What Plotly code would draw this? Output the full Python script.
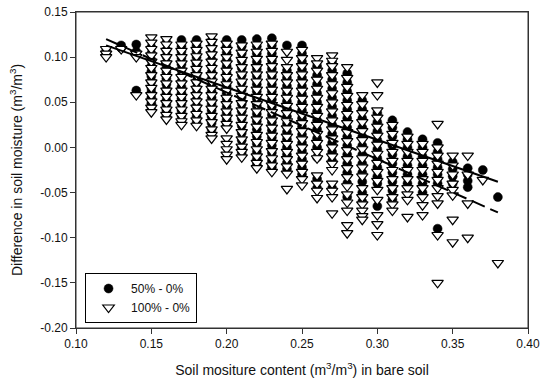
import plotly.graph_objects as go

columns = [0.12, 0.13, 0.14, 0.15, 0.16, 0.17, 0.18, 0.19, 0.20, 0.21, 0.22, 0.23, 0.24,
           0.25, 0.26, 0.27, 0.28, 0.29, 0.30, 0.31, 0.32, 0.33, 0.34, 0.35, 0.36, 0.37, 0.38]

circles_50 = [
    [0.107, 0.104],
    [0.113, 0.110],
    [0.114, 0.106, 0.063],
    [0.111, 0.104, 0.097, 0.090, 0.084, 0.079, 0.073, 0.066, 0.061, 0.055, 0.049, 0.045],
    [0.116, 0.108, 0.101, 0.094, 0.088, 0.083, 0.076, 0.070, 0.064, 0.059, 0.052, 0.047, 0.041, 0.035],
    [0.119, 0.112, 0.106, 0.099, 0.092, 0.086, 0.080, 0.073, 0.067, 0.060, 0.054, 0.048, 0.041, 0.035, 0.030],
    [0.119, 0.113, 0.106, 0.100, 0.093, 0.086, 0.080, 0.073, 0.066, 0.060, 0.053, 0.046, 0.040, 0.034, 0.027],
    [0.118, 0.111, 0.104, 0.097, 0.090, 0.083, 0.076, 0.069, 0.062, 0.055, 0.048, 0.041, 0.034, 0.027, 0.020],
    [0.119, 0.112, 0.105, 0.097, 0.090, 0.082, 0.075, 0.068, 0.060, 0.053, 0.045, 0.038, 0.031, 0.024],
    [0.119, 0.112, 0.104, 0.096, 0.088, 0.080, 0.072, 0.064, 0.056, 0.048, 0.040, 0.032, 0.024, 0.016, 0.008, 0.000, -0.006],
    [0.120, 0.112, 0.104, 0.095, 0.087, 0.079, 0.070, 0.062, 0.054, 0.046, 0.037, 0.029, 0.020, 0.012, 0.004, -0.005, -0.013, -0.019],
    [0.121, 0.113, 0.104, 0.096, 0.087, 0.079, 0.070, 0.062, 0.053, 0.045, 0.036, 0.028, 0.019, 0.011, 0.002, -0.006, -0.015, -0.022],
    [0.113, 0.085, 0.077, 0.068, 0.060, 0.051, 0.043, 0.034, 0.026, 0.017, 0.009, 0.000, -0.008, -0.017, -0.024],
    [0.113, 0.104, 0.095, 0.086, 0.077, 0.068, 0.059, 0.050, 0.041, 0.032, 0.023, 0.014, 0.005, -0.004, -0.013, -0.022, -0.030],
    [0.090, 0.080, 0.070, 0.060, 0.050, 0.040, 0.030, 0.020, 0.010, 0.000, -0.011, -0.035, -0.045],
    [0.095, 0.085, 0.075, 0.065, 0.055, 0.045, 0.035, 0.025, 0.015, 0.005, -0.005, -0.015, -0.045],
    [0.082, 0.072, 0.062, 0.052, 0.042, 0.032, 0.022, 0.012, 0.002, -0.008, -0.018, -0.028, -0.040, -0.055],
    [0.052, 0.042, 0.032, 0.022, 0.012, 0.002, -0.008, -0.018, -0.028, -0.038, -0.050, -0.060],
    [0.038, 0.028, 0.018, 0.008, -0.002, -0.012, -0.022, -0.032, -0.040, -0.065],
    [0.030, 0.022, 0.012, 0.002, -0.008, -0.018, -0.028, -0.038, -0.048, -0.058],
    [0.017, 0.009, 0.000, -0.010, -0.020, -0.030, -0.040],
    [0.009, 0.000, -0.010, -0.020, -0.030, -0.040, -0.050],
    [0.005, -0.005, -0.013, -0.022, -0.030, -0.040, -0.090],
    [-0.016, -0.024, -0.032, -0.040],
    [-0.023, -0.030, -0.037, -0.044],
    [-0.025],
    [-0.055],
]

triangles_100 = [
    [0.109, 0.104, 0.100],
    [0.109],
    [0.104, 0.100, 0.058],
    [0.122, 0.116, 0.109, 0.102, 0.095, 0.088, 0.080, 0.072, 0.066, 0.058, 0.051, 0.044, 0.039],
    [0.120, 0.114, 0.107, 0.100, 0.093, 0.085, 0.078, 0.071, 0.063, 0.056, 0.049, 0.042, 0.036, 0.031],
    [0.114, 0.107, 0.100, 0.093, 0.085, 0.078, 0.071, 0.063, 0.056, 0.049, 0.042, 0.035, 0.029, 0.025],
    [0.115, 0.108, 0.101, 0.094, 0.087, 0.080, 0.072, 0.065, 0.058, 0.051, 0.044, 0.037, 0.030, 0.024],
    [0.123, 0.117, 0.110, 0.103, 0.095, 0.088, 0.080, 0.073, 0.065, 0.058, 0.050, 0.043, 0.035, 0.028, 0.020, 0.014, 0.010],
    [0.115, 0.108, 0.100, 0.093, 0.085, 0.078, 0.070, 0.063, 0.055, 0.048, 0.040, 0.033, 0.026, 0.021, 0.010, 0.004, -0.002, -0.008, -0.013],
    [0.113, 0.105, 0.097, 0.089, 0.081, 0.073, 0.065, 0.057, 0.049, 0.041, 0.033, 0.025, 0.017, 0.009, 0.001, -0.005, -0.011],
    [0.114, 0.106, 0.098, 0.089, 0.081, 0.073, 0.064, 0.056, 0.048, 0.040, 0.031, 0.023, 0.014, 0.006, -0.002, -0.010, -0.017, -0.023],
    [0.115, 0.107, 0.098, 0.090, 0.081, 0.073, 0.064, 0.056, 0.047, 0.039, 0.030, 0.022, 0.013, 0.005, -0.004, -0.012, -0.020, -0.027],
    [0.106, 0.097, 0.089, 0.080, 0.072, 0.063, 0.055, 0.046, 0.038, 0.029, 0.021, 0.012, 0.004, -0.005, -0.013, -0.021, -0.029, -0.046],
    [0.108, 0.099, 0.090, 0.081, 0.072, 0.063, 0.054, 0.045, 0.036, 0.027, 0.018, 0.009, 0.000, -0.009, -0.018, -0.027, -0.035, -0.042],
    [0.099, 0.093, 0.085, 0.075, 0.065, 0.055, 0.045, 0.035, 0.025, 0.015, 0.005, -0.005, -0.012, -0.031, -0.040, -0.048, -0.056],
    [0.102, 0.096, 0.090, 0.080, 0.070, 0.060, 0.050, 0.040, 0.030, 0.020, 0.010, 0.000, -0.010, -0.018, -0.025, -0.040, -0.048, -0.055, -0.073],
    [0.089, 0.077, 0.067, 0.057, 0.047, 0.037, 0.027, 0.017, 0.007, -0.003, -0.013, -0.023, -0.033, -0.043, -0.052, -0.061, -0.070, -0.086, -0.095],
    [0.058, 0.048, 0.038, 0.028, 0.018, 0.008, -0.002, -0.012, -0.022, -0.032, -0.045, -0.055, -0.063, -0.070, -0.076, -0.080],
    [0.072, 0.058, 0.041, 0.033, 0.023, 0.013, 0.003, -0.007, -0.017, -0.027, -0.037, -0.047, -0.058, -0.075, -0.085, -0.097],
    [0.025, 0.015, 0.005, -0.005, -0.015, -0.025, -0.035, -0.045, -0.055, -0.063, -0.070],
    [0.012, 0.004, -0.005, -0.015, -0.025, -0.035, -0.045, -0.052, -0.058, -0.077],
    [0.004, -0.005, -0.015, -0.025, -0.035, -0.045, -0.055, -0.064, -0.075],
    [0.026, 0.000, -0.009, -0.018, -0.027, -0.036, -0.045, -0.054, -0.062, -0.097, -0.150],
    [-0.009, -0.020, -0.030, -0.040, -0.047, -0.053, -0.080, -0.105],
    [-0.009, -0.030, -0.062, -0.100],
    [-0.036],
    [-0.128],
]

fit_x = [0.12, 0.38]
fit_50_y = [0.113, -0.038]
fit_100_y = [0.120, -0.072]

x_ticks = [0.10, 0.15, 0.20, 0.25, 0.30, 0.35, 0.40]
y_ticks = [-0.20, -0.15, -0.10, -0.05, 0.00, 0.05, 0.10, 0.15]


def flatten(cols, groups):
    xs, ys = [], []
    for cx, g in zip(cols, groups):
        for v in g:
            xs.append(cx)
            ys.append(v)
    return xs, ys


cx, cy = flatten(columns, circles_50)
tx, ty = flatten(columns, triangles_100)

fig = go.Figure()
fig.add_trace(go.Scatter(
    x=cx, y=cy, mode="markers", name="50% - 0%",
    marker=dict(symbol="circle", size=9, color="black", line=dict(width=0.5, color="black")),
))
fig.add_trace(go.Scatter(
    x=tx, y=ty, mode="markers", name="100% - 0%",
    marker=dict(symbol="triangle-down", size=10, color="white", line=dict(width=1.2, color="black")),
))
fig.add_trace(go.Scatter(
    x=fit_x, y=fit_50_y, mode="lines", showlegend=False,
    line=dict(color="black", width=2),
))
fig.add_trace(go.Scatter(
    x=fit_x, y=fit_100_y, mode="lines", showlegend=False,
    line=dict(color="black", width=2, dash="14px,6px"),
))

# plot frame
fig.add_shape(type="rect", xref="paper", yref="paper", x0=0, x1=1, y0=0, y1=1,
              line=dict(color="#333", width=1), fillcolor="rgba(0,0,0,0)", layer="above")

font_family = "Liberation Sans, Arial, sans-serif"
fig.update_layout(
    width=550, height=391,
    margin=dict(l=76, r=22, t=12, b=63),
    paper_bgcolor="white", plot_bgcolor="white",
    font=dict(family=font_family, size=12, color="#111"),
    showlegend=True,
    legend=dict(
        x=0.02, y=0.174, xanchor="left", yanchor="top",
        bordercolor="black", borderwidth=1, bgcolor="white",
        font=dict(size=12, color="#111"),
        itemwidth=35,
        tracegroupgap=0,
    ),
    xaxis=dict(
        range=[0.10, 0.40], tickvals=x_ticks, ticktext=[f"{v:.2f}" for v in x_ticks],
        showgrid=False, zeroline=False, showline=True, linecolor="#333", linewidth=1,
        mirror=True, ticks="outside", ticklen=5, tickcolor="#333", automargin=False,
        tickfont=dict(size=12),
        title=dict(text="Soil mositure content (m<sup>3</sup>/m<sup>3</sup>) in bare soil",
                   font=dict(size=14, color="#111"), standoff=14),
    ),
    yaxis=dict(
        range=[-0.20, 0.15], tickvals=y_ticks, ticktext=[f"{v:.2f}" for v in y_ticks],
        showgrid=False, zeroline=False, showline=True, linecolor="#333", linewidth=1,
        mirror=True, ticks="outside", ticklen=5, tickcolor="#333", automargin=False,
        tickfont=dict(size=12),
        title=dict(text="Difference in soil moisture (m<sup>3</sup>/m<sup>3</sup>)",
                   font=dict(size=14, color="#111"), standoff=14),
    ),
)

fig.write_html("out.html", config={"displayModeBar": False},
               post_script="document.body.style.margin='0';")
